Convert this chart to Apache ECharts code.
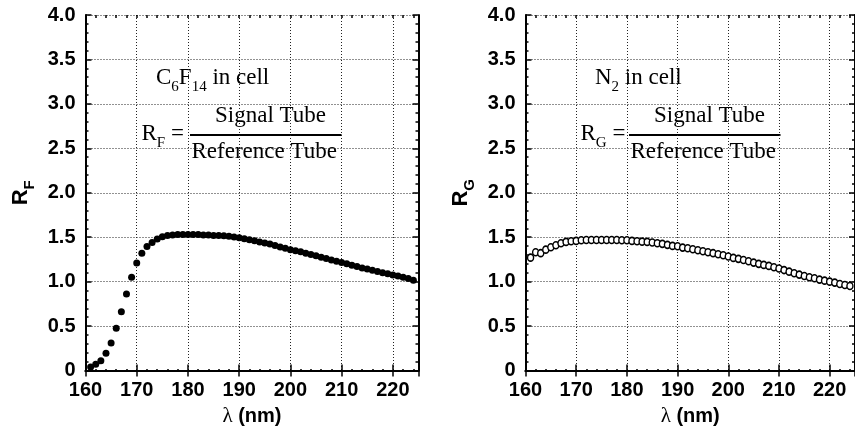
<!DOCTYPE html>
<html lang="en">
<head>
    <meta charset="UTF-8">
    <title>R_F / R_G</title>
    <script src="https://cdn.jsdelivr.net/npm/echarts@6/dist/echarts.min.js"></script>
</head>
<style>
html,body{margin:0;padding:0;background:#fff;}
#chartBox{width:855px;height:432px;}
</style>
<body>
    <div id="chartBox"></div>
</body>
<script>
// 波长 (nm)
const wavelength = [161, 162, 163, 164, 165, 166, 167, 168, 169, 170,
    171, 172, 173, 174, 175, 176, 177, 178, 179, 180,
    181, 182, 183, 184, 185, 186, 187, 188, 189, 190,
    191, 192, 193, 194, 195, 196, 197, 198, 199, 200,
    201, 202, 203, 204, 205, 206, 207, 208, 209, 210,
    211, 212, 213, 214, 215, 216, 217, 218, 219, 220,
    221, 222, 223, 224];
// C6F14 in cell
const rF = [0.04, 0.07, 0.11, 0.195, 0.31, 0.475, 0.66, 0.86, 1.05, 1.21,
    1.32, 1.395, 1.44, 1.48, 1.505, 1.52, 1.525, 1.53, 1.53, 1.53,
    1.53, 1.53, 1.525, 1.525, 1.52, 1.52, 1.515, 1.51, 1.503, 1.495,
    1.483, 1.471, 1.459, 1.447, 1.435, 1.422, 1.406, 1.39, 1.376, 1.36,
    1.346, 1.335, 1.32, 1.305, 1.29, 1.274, 1.26, 1.244, 1.23, 1.214,
    1.2, 1.184, 1.17, 1.154, 1.143, 1.128, 1.113, 1.1, 1.09, 1.075,
    1.064, 1.05, 1.034, 1.015];
// N2 in cell
const rG = [1.27, 1.33, 1.32, 1.36, 1.387, 1.41, 1.432, 1.447, 1.454, 1.458,
    1.465, 1.468, 1.468, 1.468, 1.468, 1.468, 1.468, 1.468, 1.465, 1.465,
    1.458, 1.454, 1.45, 1.447, 1.44, 1.432, 1.425, 1.414, 1.402, 1.398,
    1.383, 1.376, 1.365, 1.353, 1.342, 1.331, 1.32, 1.308, 1.297, 1.282,
    1.267, 1.256, 1.244, 1.229, 1.214, 1.2, 1.188, 1.177, 1.162, 1.147,
    1.13, 1.112, 1.094, 1.079, 1.064, 1.049, 1.038, 1.023, 1.011, 1.0,
    0.989, 0.974, 0.962, 0.951];

const X_MIN = 160, X_MAX = 225, X_STEP = 10, X_MINOR = 2;
const Y_MIN = 0, Y_MAX = 4, Y_STEP = 0.5;

const SANS = 'Liberation Sans';
const SERIF = 'Liberation Serif';

const lineBlack = {lineStyle: {color: '#000', width: 2}};
const gridDots = {show: true, lineStyle: {color: '#222', width: 1, type: [1, 2]}};
const labelStyle = {fontFamily: SANS, fontWeight: 'bold', fontSize: 20, color: '#000'};

// x 轴 (底/顶, 主刻度)
function xMain(gridIndex, position, withLabel) {
    return {
        type: 'value', gridIndex: gridIndex, position: position,
        min: X_MIN, max: X_MAX, interval: X_STEP,
        axisLine: lineBlack,
        axisTick: {inside: true, length: 6, lineStyle: {color: '#000', width: 1.5}},
        axisLabel: withLabel ? Object.assign({margin: 10, showMaxLabel: false}, labelStyle) : {show: false},
        splitLine: withLabel ? gridDots : {show: false},
        name: withLabel ? '{l|λ}{n| (nm)}' : '',
        nameLocation: 'middle',
        nameGap: 36,
        nameTextStyle: {
            rich: {
                l: {fontFamily: SERIF, fontSize: 21, color: '#000', lineHeight: 20},
                n: {fontFamily: SANS, fontWeight: 'bold', fontSize: 20, color: '#000', lineHeight: 20}
            }
        }
    };
}

// x 轴次刻度 (叠加的 grid)
function xMinor(gridIndex, position) {
    return {
        type: 'value', gridIndex: gridIndex, position: position,
        min: X_MIN, max: X_MAX, interval: X_MINOR,
        axisLine: {show: false},
        axisTick: {inside: true, length: 3, lineStyle: {color: '#000', width: 1.5}},
        axisLabel: {show: false},
        splitLine: {show: false}
    };
}

function yMain(gridIndex, position, withLabel, sub) {
    return {
        type: 'value', gridIndex: gridIndex, position: position,
        min: Y_MIN, max: Y_MAX, interval: Y_STEP,
        axisLine: lineBlack,
        axisTick: {inside: true, length: 6, lineStyle: {color: '#000', width: 1.5}},
        minorTick: {show: true, splitNumber: 5, length: 3, lineStyle: {color: '#000', width: 1.5}},
        axisLabel: withLabel ? Object.assign({
            margin: 10,
            formatter: function (v) { return v === 0 ? '0' : v.toFixed(1); }
        }, labelStyle) : {show: false},
        splitLine: withLabel ? gridDots : {show: false},
        name: withLabel ? '{r|R}{s|' + sub + '}' : '',
        nameLocation: 'middle',
        nameGap: 48,
        nameTextStyle: {
            rich: {
                r: {fontFamily: SANS, fontWeight: 'bold', fontSize: 22, color: '#000', lineHeight: 34, verticalAlign: 'middle'},
                s: {fontFamily: SANS, fontWeight: 'bold', fontSize: 15, color: '#000', lineHeight: 15, verticalAlign: 'bottom'}
            }
        }
    };
}

function yHidden(gridIndex) {
    return {type: 'value', gridIndex: gridIndex, min: Y_MIN, max: Y_MAX, show: false};
}

// 图中注释 (公式)
function formulaGraphic(dx, sub, gasRich) {
    // 正文居中, 下标贴底 => 下标比基线低约 7px
    const main = {fontFamily: SERIF, fontSize: 23, color: '#000', lineHeight: 34, verticalAlign: 'middle'};
    const low = {fontFamily: SERIF, fontSize: 15, color: '#000', lineHeight: 15, verticalAlign: 'bottom'};
    return [
        {
            type: 'text', x: 156 + dx, y: 61,
            style: {text: gasRich, rich: {m: main, s: low}, align: 'left', verticalAlign: 'top'}
        },
        {
            type: 'text', x: 141.5 + dx, y: 117,
            style: {text: '{m|R}{s|' + sub + '}{m| =}', rich: {m: main, s: low}, align: 'left', verticalAlign: 'top'}
        },
        {
            type: 'text', x: 215 + dx, y: 115.5,
            style: {text: 'Signal Tube', fontFamily: SERIF, fontSize: 23, fill: '#000', align: 'left', verticalAlign: 'middle'}
        },
        {
            type: 'line', shape: {x1: 190 + dx, y1: 135, x2: 341.5 + dx, y2: 135},
            style: {stroke: '#000', lineWidth: 2}
        },
        {
            type: 'text', x: 191.5 + dx, y: 151.5,
            style: {text: 'Reference Tube', fontFamily: SERIF, fontSize: 23, fill: '#000', align: 'left', verticalAlign: 'middle'}
        }
    ];
}

function pairs(values) {
    return wavelength.map((w, i) => [w, values[i]]);
}

let chartObj = echarts.init(document.getElementById('chartBox'), null, {renderer: 'canvas'});
let leftBox = {left: 85.5, top: 15, width: 333, height: 357};
let rightBox = {left: 525.5, top: 15, width: 333, height: 357};

let option = {
    animation: false,
    backgroundColor: '#fff',
    grid: [leftBox, leftBox, rightBox, rightBox],
    xAxis: [
        xMain(0, 'bottom', true), xMain(0, 'top', false),
        xMinor(1, 'bottom'), xMinor(1, 'top'),
        xMain(2, 'bottom', true), xMain(2, 'top', false),
        xMinor(3, 'bottom'), xMinor(3, 'top')
    ],
    yAxis: [
        yMain(0, 'left', true, 'F'), yMain(0, 'right', false),
        yHidden(1),
        yMain(2, 'left', true, 'G'), yMain(2, 'right', false),
        yHidden(3)
    ],
    series: [
        {
            type: 'scatter', xAxisIndex: 0, yAxisIndex: 0,
            symbol: 'circle', symbolSize: 7,
            itemStyle: {color: '#000', opacity: 1},
            data: pairs(rF)
        },
        {
            type: 'scatter', xAxisIndex: 4, yAxisIndex: 3,
            symbol: 'circle', symbolSize: [6, 7],
            itemStyle: {color: '#fff', borderColor: '#000', borderWidth: 1.5, opacity: 1},
            data: pairs(rG)
        }
    ],
    graphic: formulaGraphic(0, 'F', '{m|C}{s|6}{m|F}{s|14}{m| in cell}')
        .concat(formulaGraphic(439, 'G', '{m|N}{s|2}{m| in cell}'))
};

chartObj.setOption(option);
</script>
</html>
